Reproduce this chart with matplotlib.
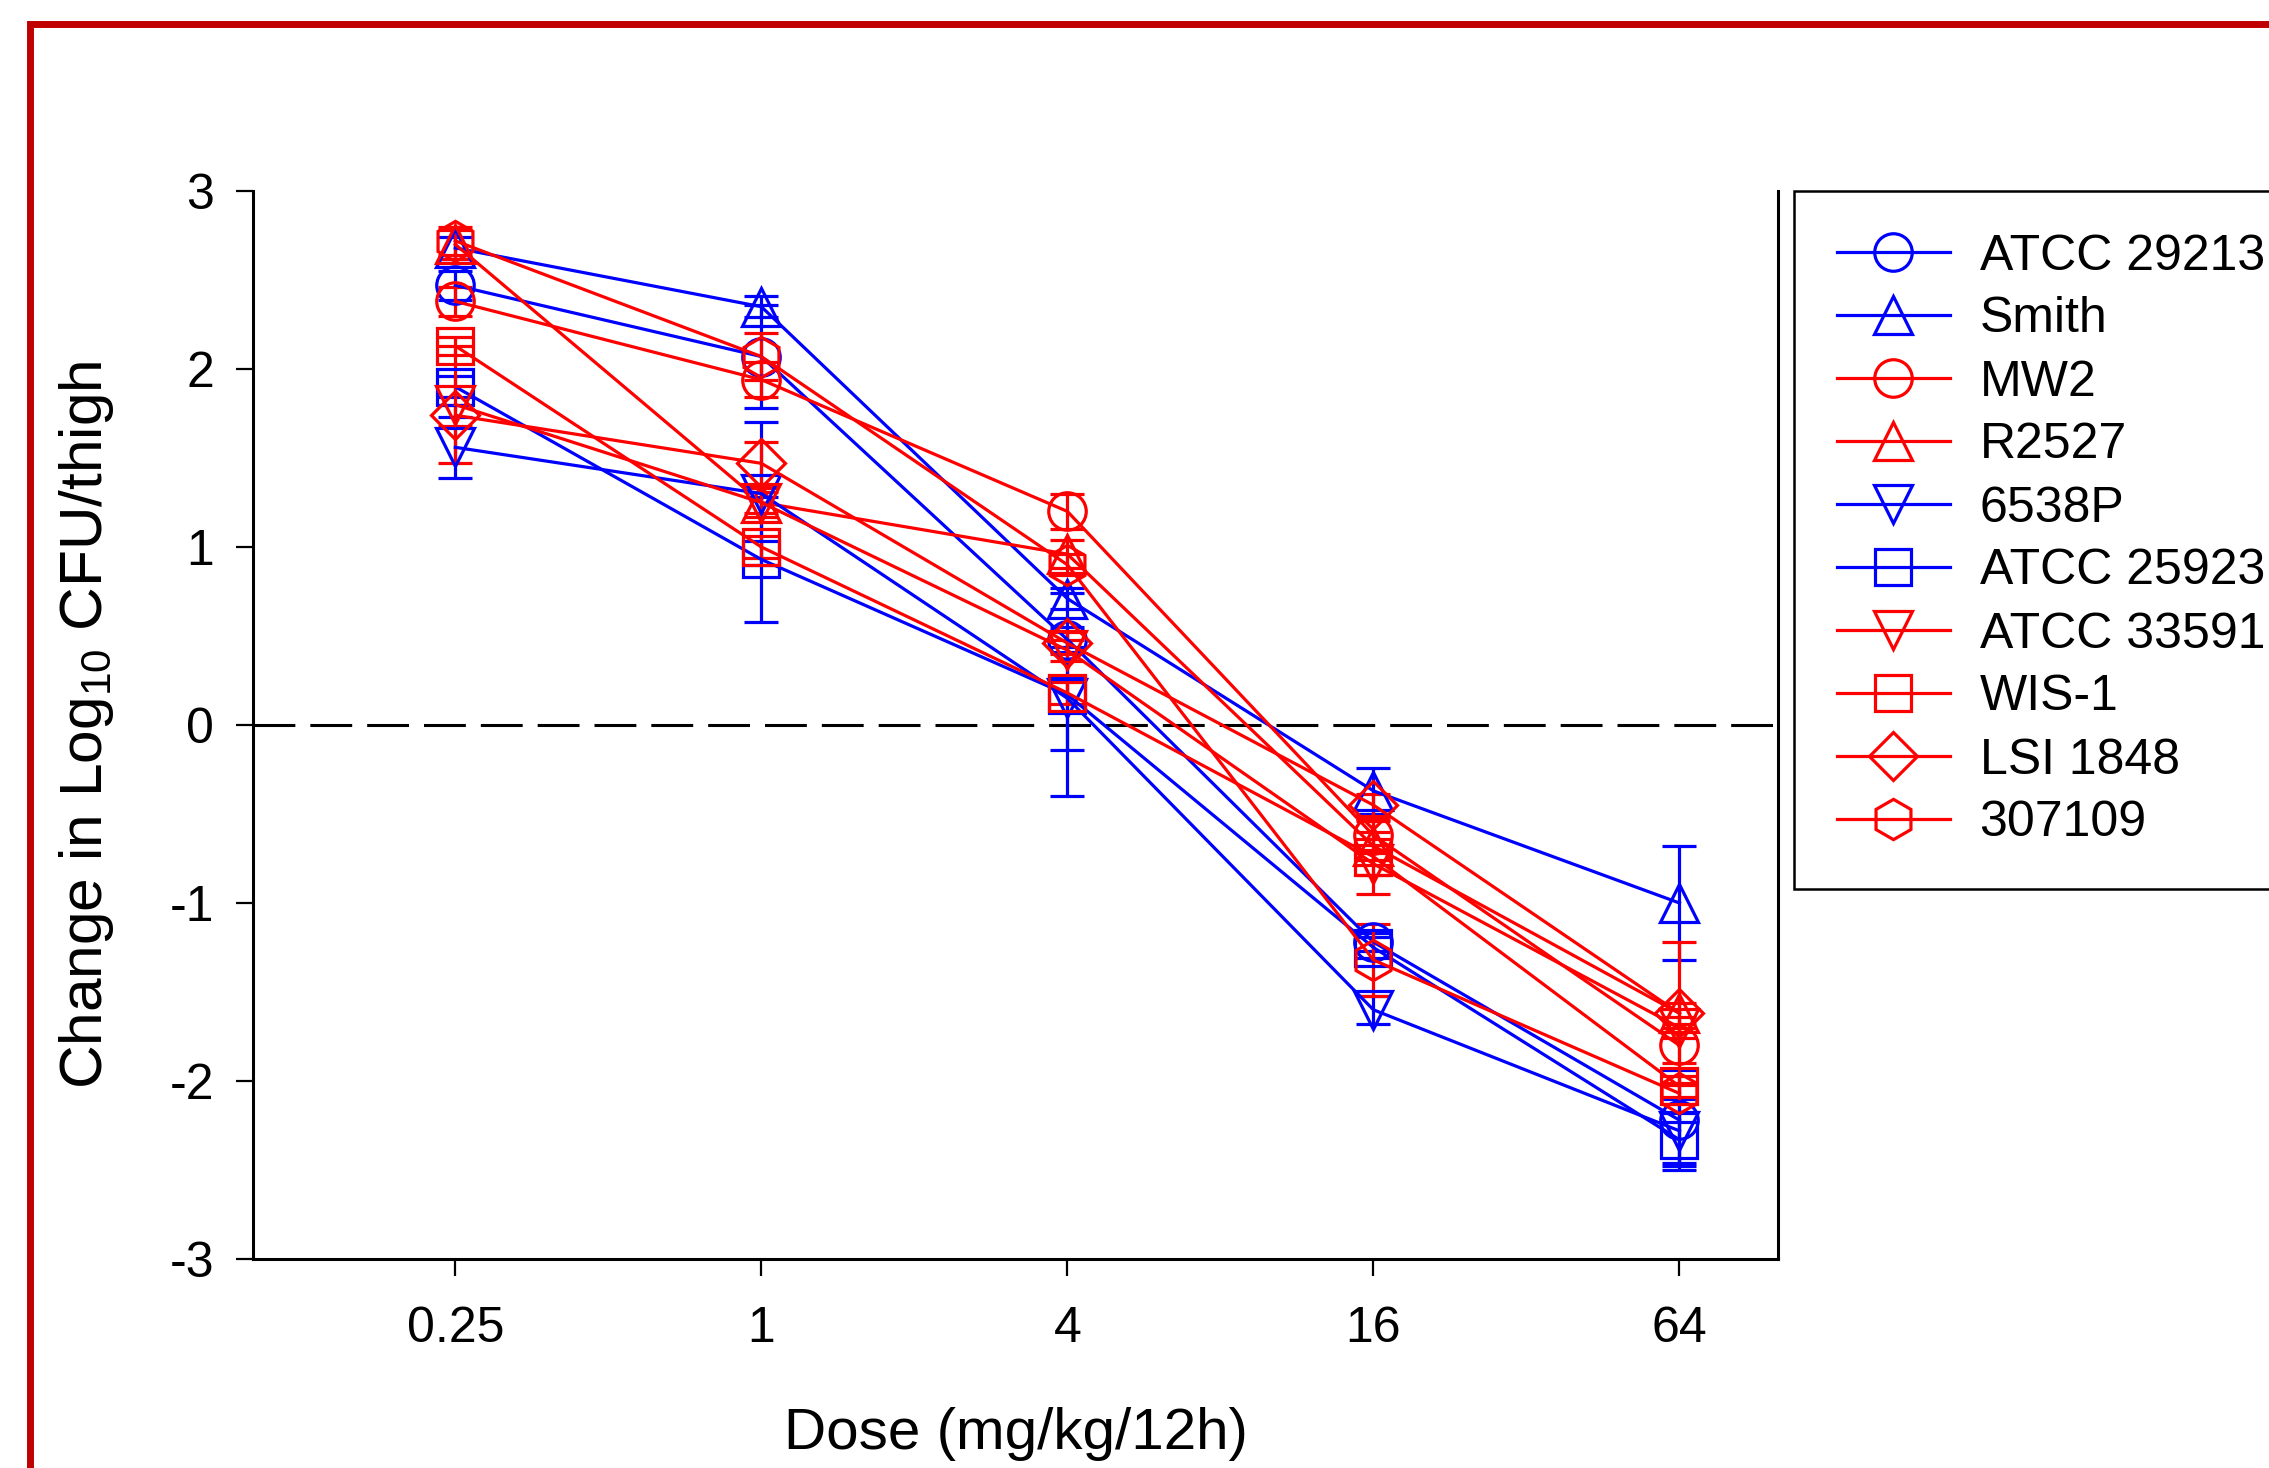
# Dose-response of log10 CFU/thigh change for S. aureus strains.

import matplotlib
matplotlib.use("Agg")
import matplotlib.pyplot as plt
from matplotlib.patches import Rectangle

plt.rcParams['font.family'] = ['Liberation Sans', 'DejaVu Sans']
plt.rcParams['mathtext.fontset'] = 'custom'
plt.rcParams['mathtext.rm'] = 'Liberation Sans'
plt.rcParams['mathtext.it'] = 'Liberation Sans:italic'
plt.rcParams['axes.unicode_minus'] = False

doses = [0.25, 1, 4, 16, 64]
dose_labels = ["0.25", "1", "4", "16", "64"]

strains = ["ATCC 29213", "Smith", "MW2", "R2527", "6538P",
           "ATCC 25923", "ATCC 33591", "WIS-1", "LSI 1848", "307109"]
colors = ["blue", "blue", "red", "red", "blue",
          "blue", "red", "red", "red", "red"]
markers = ["o", "^", "o", "^", "v", "s", "v", "s", "D", "h"]

atcc29213 = [2.47, 2.07, 0.48, -1.22, -2.22]
smith = [2.68, 2.35, 0.71, -0.37, -1.00]
mw2 = [2.38, 1.94, 1.20, -0.62, -1.80]
r2527 = [2.70, 1.25, 0.96, -0.68, -1.62]
p6538 = [1.56, 1.30, 0.15, -1.60, -2.28]
atcc25923 = [1.90, 0.93, 0.17, -1.25, -2.33]
atcc33591 = [1.80, 1.25, 0.42, -0.78, -1.70]
wis1 = [2.13, 1.00, 0.18, -0.74, -2.03]
lsi1848 = [1.74, 1.47, 0.46, -0.45, -1.62]
s307109 = [2.72, 2.07, 0.90, -1.32, -2.07]

err_atcc29213 = [0.08, 0.29, 0.07, 0.05, 0.28]
err_smith = [0.06, 0.06, 0.06, 0.13, 0.32]
err_mw2 = [0.08, 0.10, 0.10, 0.08, 0.10]
err_r2527 = [0.08, 0.06, 0.08, 0.08, 0.40]
err_p6538 = [0.17, 0.40, 0.29, 0.08, 0.18]
err_atcc25923 = [0.06, 0.35, 0.57, 0.06, 0.15]
err_atcc33591 = [0.33, 0.08, 0.06, 0.06, 0.06]
err_wis1 = [0.05, 0.06, 0.06, 0.21, 0.06]
err_lsi1848 = [0.06, 0.12, 0.06, 0.06, 0.06]
err_s307109 = [0.08, 0.13, 0.06, 0.20, 0.06]

values = [atcc29213, smith, mw2, r2527, p6538,
          atcc25923, atcc33591, wis1, lsi1848, s307109]
errors = [err_atcc29213, err_smith, err_mw2, err_r2527, err_p6538,
          err_atcc25923, err_atcc33591, err_wis1, err_lsi1848, err_s307109]

msizes = {"o": 27, "^": 28, "v": 28, "s": 26, "D": 24, "h": 29}

fig = plt.figure(figsize=(22.69, 14.68), dpi=100)
ax = fig.add_axes([253 / 2269, 1 - 1259 / 1468, 1525 / 2269, 1068 / 1468])

ax.axhline(0, color="black", lw=2.2, dashes=(13.7, 4.9), zorder=1)

handles = []
for name, c, m, y, e in zip(strains, colors, markers, values, errors):
    cont = ax.errorbar(doses, y, yerr=e, color=c, marker=m, ms=msizes[m],
                       mfc="none", mec=c, mew=2.3, lw=2.3, elinewidth=2.3,
                       capsize=12, capthick=2.3, zorder=3)
    handles.append(cont[0])

ax.set_xscale("log", base=2)
ax.set_xlim(0.1, 100)
ax.set_xticks(doses)
ax.set_xticklabels(dose_labels)
ax.minorticks_off()
ax.set_ylim(-3, 3)
ax.set_yticks([-3, -2, -1, 0, 1, 2, 3])

for side in ["left", "bottom", "right"]:
    ax.spines[side].set_linewidth(2.2)
ax.spines["top"].set_visible(False)
ax.tick_params(axis="both", direction="out", length=12, width=1.6,
               labelsize=36)
ax.tick_params(axis="y", pad=16)
ax.tick_params(axis="x", pad=22)

ax.set_xlabel("Dose (mg/kg/12h)", fontsize=42)
ax.xaxis.set_label_coords(0.5, -0.139)
ax.set_ylabel("Change in Log$_{10}$ CFU/thigh", fontsize=43.5)
ax.yaxis.set_label_coords(-0.090, 0.5)

leg = fig.legend(handles, strains, loc="upper left",
                 bbox_to_anchor=(1794 / 2269, 1 - 191 / 1468),
                 bbox_transform=fig.transFigure, borderaxespad=0,
                 fontsize=36, frameon=True, fancybox=False,
                 handlelength=2.26, handletextpad=0.6, borderpad=0.85,
                 labelspacing=0.34)
leg.get_frame().set_edgecolor("black")
leg.get_frame().set_linewidth(1.8)
leg.get_frame().set_alpha(1)

# red frame around the figure panel
fig.patches.append(Rectangle((29.5 / 2269, -0.2), 1.3, 1.2 - 23.5 / 1468,
                             transform=fig.transFigure, fill=False,
                             edgecolor="#C00000", lw=5, zorder=10))

fig.savefig("out.png", dpi=100)
